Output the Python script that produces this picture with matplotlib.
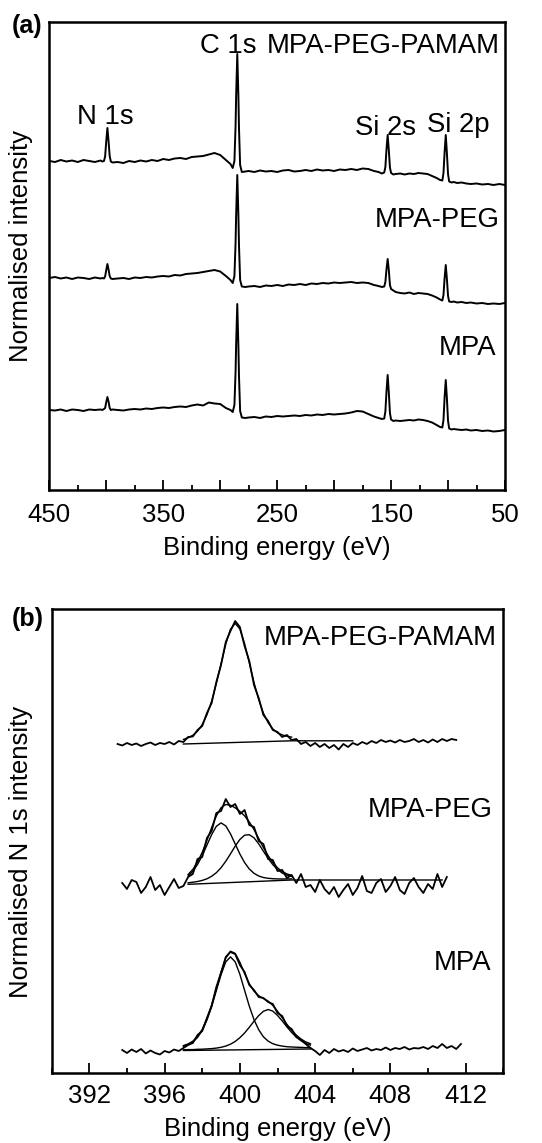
import matplotlib
matplotlib.use("Agg")
import matplotlib.pyplot as plt
from matplotlib.ticker import MultipleLocator, FixedFormatter, FixedLocator
import numpy as np

plt.rcParams["font.family"] = ["Liberation Sans", "DejaVu Sans"]

# ---- (a) survey spectra ----
survey_energy = [450, 445, 440, 435, 430, 425, 420, 415, 410, 405,
                 403.5, 402, 401, 400, 399, 398, 397, 396, 394.5,
                 390, 385, 380, 375, 370, 365, 360, 355, 350, 345, 340, 335,
                 330, 325, 320, 315, 310, 305, 300, 295,
                 291, 289, 287.5, 286.5, 286, 285, 284, 283.5, 282.5, 281, 278,
                 275, 270, 265, 260, 255, 250, 245, 240, 235, 230, 225, 220,
                 215, 210, 205, 200, 195, 190, 185, 180, 175, 170, 165,
                 161, 158, 156, 155, 154, 153, 152, 151, 150, 148, 146,
                 142, 138, 134, 130, 126, 122, 118, 114, 110, 107,
                 105, 104, 103, 102, 101, 100, 99, 97, 95,
                 92, 88, 84, 80, 75, 70, 65, 60, 55, 50]

survey_pamam = [329, 328, 330, 328.5, 329.5, 328, 330, 329, 328, 329.5,
                328.5, 329, 333.5, 349, 362, 349, 334, 328.5, 327.5,
                328, 327, 329, 328, 329.5, 328.5, 330, 329, 331, 330, 331.5, 332,
                331, 333, 333.5, 334, 335.5, 337, 335, 330,
                326, 322, 329, 364, 394, 436, 393, 362, 325, 318, 318.5,
                319, 318, 319.5, 318.5, 319, 318, 319.5, 320, 318.5, 319, 320, 319,
                320.5, 319.5, 320, 319, 320.5, 320, 321, 320, 321.5, 321, 319,
                318, 316.5, 317.5, 323, 341, 355, 340, 322.5, 317, 315.5, 316,
                316.5, 315.5, 316.5, 316, 317, 316.5, 316, 314, 312, 310,
                309.5, 317, 338, 355, 337, 316, 308.5, 307.5, 308,
                307, 307.5, 306.5, 306, 306.5, 305.5, 306, 305, 306, 305]

survey_peg = [212, 213, 211.5, 212.5, 211, 212.5, 212, 211, 212.5, 211.5,
              212, 211.5, 213.5, 220, 226, 220.5, 214, 211.5, 211,
              211.5, 212, 211, 212.5, 212, 213, 212.5, 213.5, 214, 213.5, 215, 214.5,
              216, 216.5, 217, 218, 219, 220, 218.5, 214,
              210, 207, 214, 247, 275, 315, 274, 245, 210, 203.5, 203,
              203.5, 204, 203, 204.5, 204, 205, 204, 205.5, 205, 206, 205, 206.5,
              206, 207, 206.5, 207.5, 207, 207.5, 208, 207, 207.5, 207, 205,
              204, 203, 203.5, 208, 221, 231, 220, 205, 201, 199.5, 198,
              197, 196.5, 197.5, 196, 197, 196.5, 196, 194.5, 192.5, 190.5,
              189.5, 195, 212, 225, 211, 194, 188.5, 188, 188.5,
              187.5, 188, 187, 187.5, 186.5, 187, 186, 186.5, 186, 187]

survey_mpa = [80, 79.5, 80.5, 79, 80.5, 80, 79, 80.5, 80, 80.5,
              80, 81, 82, 88, 93, 88.5, 82, 80, 80.5,
              80, 79.5, 80.5, 81, 80.5, 81.5, 81, 82, 82.5, 82, 83, 83.5,
              83, 84.5, 85.5, 84.5, 87.5, 86.5, 86, 82,
              80, 78, 85, 118, 146, 186, 143, 114, 79, 72.5, 72,
              72.5, 73, 72, 73.5, 73, 74, 73.5, 74, 74.5, 74, 75, 74.5,
              75.5, 75, 76, 75.5, 76, 76.5, 77.5, 79, 78.5, 76, 73.5,
              72, 71, 71.5, 78.5, 99, 115, 98, 77, 70.5, 69, 69.5,
              69, 69.5, 70, 69.5, 70.5, 70, 69, 67.5, 65, 63,
              62.5, 70, 93, 110, 92, 69, 61.5, 60.5, 61,
              60.5, 60, 60.5, 59.5, 60, 59, 59.5, 58.5, 59, 60]

survey_ticks = [450, 400, 350, 300, 250, 200, 150, 100, 50]
survey_ticklabels = ["450", "", "350", "", "250", "", "150", "", "50"]

# ---- (b) N 1s spectra ----
pamam_n1s = [329, 327.5, 330, 328, 329.5, 327, 329, 330.5, 328, 330, 329, 331,
             328.5, 332, 331, 336, 336.5, 343, 347, 360, 370, 391, 408, 431,
             442, 452, 446, 427, 412, 388, 375, 358, 352, 343, 341, 336,
             338, 333, 334, 329, 331, 327, 330, 326, 329, 325, 328, 323.5,
             329, 326, 330, 328, 331, 329, 332, 330, 333, 331, 332.5, 330.5,
             333, 331, 332, 334, 331, 333, 330.5, 333.5, 331, 334, 332, 334, 333]
pamam_fit = [333.6, 335.2, 337.7, 341.8, 348.4, 358.2, 371.9, 389.5, 409.4,
             428.9, 443.8, 449.6, 444.1, 429.4, 410.3, 390.6, 373.4, 359.9,
             350.3, 344.1, 340.2, 338.1, 336.7, 335.9]
pamam_base_x = [397.0, 402.75, 406.0]
pamam_base_y = [329, 332.2, 332.2]

peg_n1s = [190, 184, 193, 191, 180, 186, 196, 183, 188, 178, 186, 194, 185,
           187, 196, 199, 214, 216, 235, 242, 260, 262, 274, 266, 269, 259,
           263, 248, 246, 232, 229, 214, 213, 202, 203, 195, 198,
           190, 199, 186, 188, 181, 193, 184, 179, 186, 176, 183, 189, 178,
           185, 197, 182, 180, 190, 194, 181, 187, 196, 183, 179, 190, 195,
           186, 180, 189, 184, 199, 186, 196]
peg_comp1 = [197.0, 201.7, 208.5, 217.4, 227.9, 238.4, 246.7, 250.1, 247.1,
             239.2, 229.1, 219.0, 210.5, 204.0, 199.7, 197.0, 195.5, 194.7,
             194.3, 194.1, 194.0, 194.1, 194.1]
peg_comp2 = [190.2, 190.8, 191.5, 192.6, 194.2, 196.7, 200.3, 205.3, 211.7,
             219.1, 226.8, 233.5, 237.8, 238.3, 235.2, 229.2, 221.8, 214.7,
             208.4, 203.5, 200.0, 197.8, 196.5]
peg_fit = [198.5, 203.6, 210.9, 220.7, 232.6, 245.4, 257.1, 265.3, 268.5,
           267.8, 265.2, 261.6, 257.2, 251.1, 243.5, 234.6, 225.5, 217.4,
           210.5, 205.2, 201.4, 199.1, 197.6]
peg_base_x = [397.25, 402.75, 410.75]
peg_base_y = [188.7, 193, 193]

mpa_n1s = [23, 20, 23.5, 21, 24, 19.5, 22.5, 20, 18.5, 22, 20.5, 23.5, 22,
           25, 28, 30, 38, 42, 55, 67, 86, 100, 116, 121, 119, 108, 101, 88,
           83, 76, 75, 71, 69, 60, 57, 47, 44, 36, 33, 29, 25,
           22, 18, 23, 20, 24, 21.5, 23, 21, 24.5, 22, 23.5, 25, 22.5, 24, 23,
           25.5, 23, 25, 24, 26, 23.5, 25, 24.5, 26, 24, 27, 25, 29, 25, 27,
           24, 29]
mpa_comp1 = [26.7, 28.3, 31.0, 35.5, 42.6, 52.9, 66.4, 82.4, 98.4, 111.1,
             116.1, 111.2, 98.7, 82.7, 66.9, 53.4, 43.3, 36.2, 31.9, 29.3,
             27.8, 26.9, 26.3, 26.0, 25.8, 25.6, 25.4, 25.4]
mpa_comp2 = [23.2, 23.4, 23.4, 23.7, 23.8, 24.1, 24.4, 24.9, 25.7, 26.9,
             28.8, 31.5, 35.3, 40.0, 45.7, 51.7, 57.4, 61.7, 63.5, 61.9,
             57.6, 52.1, 46.1, 40.6, 35.9, 32.3, 29.6, 27.9]
mpa_fit = [27.4, 29.1, 31.8, 36.5, 43.7, 54.2, 68.0, 84.4, 101.2, 115.0,
           121.8, 119.6, 110.8, 99.5, 89.3, 81.8, 77.3, 74.5, 71.9, 67.6,
           61.8, 55.3, 48.7, 42.8, 37.9, 34.0, 31.1, 29.3]
mpa_base_x = [397.0, 403.75]
mpa_base_y = [22.5, 24.0]

# energy grids (0.25 eV steps)
pamam_x = np.linspace(393.5, 411.5, len(pamam_n1s))
peg_x = np.linspace(393.75, 411.0, len(peg_n1s))
mpa_x = np.linspace(393.75, 411.75, len(mpa_n1s))
pamam_fit_x = np.linspace(397.0, 402.75, len(pamam_fit))
peg_fit_x = np.linspace(397.25, 402.75, len(peg_fit))
mpa_fit_x = np.linspace(397.0, 403.75, len(mpa_fit))

FS_TICK = 18.5
FS_TEXT = 19.8


def style_axes(axe, pad, labelpad):
    for sp in axe.spines.values():
        sp.set_linewidth(1.8)
    axe.tick_params(axis="x", which="major", direction="in", length=7,
                    width=1.3, labelsize=FS_TICK, pad=pad)
    axe.tick_params(axis="x", which="minor", direction="in", length=3.6,
                    width=1.3)
    axe.set_yticks([])
    axe.set_xlabel("Binding energy (eV)", fontsize=FS_TICK, labelpad=labelpad)


fig = plt.figure(figsize=(5.42, 11.43), dpi=100)

# panel (a)
ax_a = fig.add_axes([49.3 / 542, 1 - 490 / 1143, 455.7 / 542, 468 / 1143])
for ys in (survey_pamam, survey_peg, survey_mpa):
    ax_a.plot(survey_energy, ys, color="black", lw=1.4)
ax_a.set_xlim(450, 50)
ax_a.set_ylim(0, 468)
ax_a.xaxis.set_major_locator(FixedLocator(survey_ticks))
ax_a.xaxis.set_major_formatter(FixedFormatter(survey_ticklabels))
ax_a.xaxis.set_minor_locator(MultipleLocator(25))
style_axes(ax_a, 9.5, 6)
ax_a.set_ylabel("Normalised intensity", fontsize=FS_TICK)
ax_a.yaxis.set_label_coords(-0.036, 0.521)

ax_a.text(0.331, 0.934, "C 1s", transform=ax_a.transAxes, fontsize=FS_TEXT,
          ha="left", va="baseline")
ax_a.text(0.989, 0.934, "MPA-PEG-PAMAM", transform=ax_a.transAxes,
          fontsize=FS_TEXT, ha="right", va="baseline")
ax_a.text(0.061, 0.782, "N 1s", transform=ax_a.transAxes, fontsize=FS_TEXT,
          ha="left", va="baseline")
ax_a.text(0.671, 0.759, "Si 2s", transform=ax_a.transAxes, fontsize=FS_TEXT,
          ha="left", va="baseline")
ax_a.text(0.829, 0.764, "Si 2p", transform=ax_a.transAxes, fontsize=FS_TEXT,
          ha="left", va="baseline")
ax_a.text(0.989, 0.563, "MPA-PEG", transform=ax_a.transAxes, fontsize=FS_TEXT,
          ha="right", va="baseline")
ax_a.text(0.982, 0.288, "MPA", transform=ax_a.transAxes, fontsize=FS_TEXT,
          ha="right", va="baseline")

# panel (b)
ax_b = fig.add_axes([51.7 / 542, 1 - 1073 / 1143, 451.6 / 542, 463.7 / 1143])
ax_b.plot(pamam_x, pamam_n1s, color="black", lw=1.3)
ax_b.plot(pamam_fit_x, pamam_fit, color="black", lw=1.0)
ax_b.plot(pamam_base_x, pamam_base_y, color="black", lw=1.0)

ax_b.plot(peg_x, peg_n1s, color="black", lw=1.3)
ax_b.plot(peg_fit_x, peg_comp1, color="black", lw=1.0)
ax_b.plot(peg_fit_x, peg_comp2, color="black", lw=1.0)
ax_b.plot(peg_fit_x, peg_fit, color="black", lw=1.0)
ax_b.plot(peg_base_x, peg_base_y, color="black", lw=1.0)

ax_b.plot(mpa_x, mpa_n1s, color="black", lw=1.3)
ax_b.plot(mpa_fit_x, mpa_comp1, color="black", lw=1.0)
ax_b.plot(mpa_fit_x, mpa_comp2, color="black", lw=1.0)
ax_b.plot(mpa_fit_x, mpa_fit, color="black", lw=1.0)
ax_b.plot(mpa_base_x, mpa_base_y, color="black", lw=1.0)

ax_b.set_xlim(390, 414)
ax_b.set_ylim(0, 463.7)
ax_b.xaxis.set_major_locator(MultipleLocator(4))
ax_b.xaxis.set_minor_locator(MultipleLocator(2))
style_axes(ax_b, 8, 6.5)
ax_b.set_ylabel("Normalised N 1s intensity", fontsize=FS_TICK)
ax_b.yaxis.set_label_coords(-0.041, 0.476)

ax_b.text(0.985, 0.923, "MPA-PEG-PAMAM", transform=ax_b.transAxes,
          fontsize=FS_TEXT, ha="right", va="baseline")
ax_b.text(0.977, 0.553, "MPA-PEG", transform=ax_b.transAxes,
          fontsize=FS_TEXT, ha="right", va="baseline")
ax_b.text(0.974, 0.222, "MPA", transform=ax_b.transAxes,
          fontsize=FS_TEXT, ha="right", va="baseline")

# panel letters
fig.text(12 / 542, 1 - 33 / 1143, "(a)", fontsize=18, fontweight="bold",
         ha="left", va="baseline")
fig.text(12 / 542, 1 - 626 / 1143, "(b)", fontsize=18, fontweight="bold",
         ha="left", va="baseline")

fig.savefig("out.png", dpi=100)
plt.close()
